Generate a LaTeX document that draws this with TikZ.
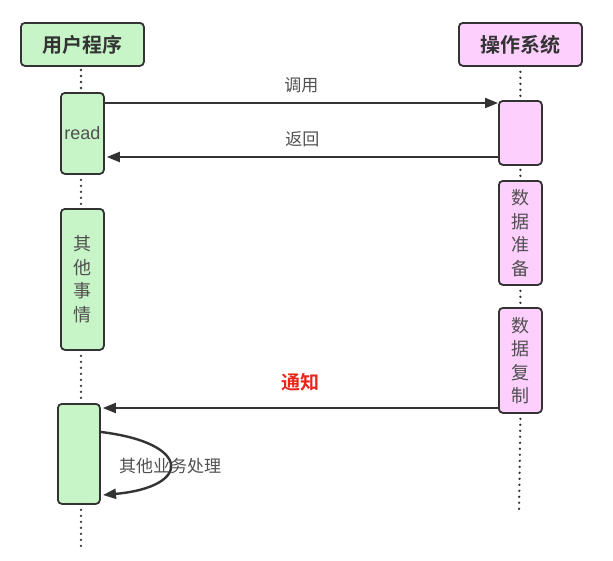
\documentclass[tikz,border=0pt]{standalone}
\usepackage{fontspec}
\newfontfamily\cjk{Noto Sans CJK SC}[BoldFont={Noto Sans CJK SC Bold}]
\setmainfont{Liberation Sans}
\usetikzlibrary{arrows.meta}
\definecolor{gfill}{HTML}{C8F5C8}
\definecolor{pfill}{HTML}{FCCFFC}
\definecolor{edge}{HTML}{333333}
\definecolor{txt}{HTML}{505050}
\definecolor{redtxt}{HTML}{E8261A}
\begin{document}
\begin{tikzpicture}[x=1pt,y=-1pt,
  box/.style={draw=edge,line width=1.8pt,rounded corners=4pt,inner sep=0pt,anchor=north west},
  head/.style={box,font=\cjk\bfseries\fontsize{20}{20}\selectfont,text=edge},
  act/.style={box,text=txt,font=\cjk\fontsize{18}{23.5}\selectfont,align=center},
  life/.style={draw=edge,line width=2.6pt,line cap=round,dash pattern=on 0pt off 6pt},
  msg/.style={draw=edge,line width=2pt,-{Triangle[length=13pt,width=10pt]}},
  lbl/.style={text=txt,font=\cjk\fontsize{17}{17}\selectfont}]
\useasboundingbox (0,0) rectangle (613,560);
% headers
\node[head,fill=gfill,minimum width=123pt,minimum height=43pt] (uh) at (20,22) {用户程序};
\node[head,fill=pfill,minimum width=123pt,minimum height=43pt] (oh) at (458,22) {操作系统};
% user activations
\node[act,fill=gfill,minimum width=43pt,minimum height=81pt,font=\fontsize{18}{18}\selectfont] (rd) at (60,92) {read};
\node[act,fill=gfill,minimum width=43pt,minimum height=141pt] (ot) at (60,208) {其\\他\\事\\情};
\node[act,fill=gfill,minimum width=42pt,minimum height=100pt] (fa) at (57,403) {};
% os activations
\node[act,fill=pfill,minimum width=43pt,minimum height=64pt] (o1) at (498,100) {};
\node[act,fill=pfill,minimum width=43pt,minimum height=104pt] (pr) at (498,180) {数\\据\\准\\备};
\node[act,fill=pfill,minimum width=43pt,minimum height=105pt] (cp) at (498,307) {数\\据\\复\\制};
% lifeline points
\coordinate (u0) at (81,65);
\coordinate (uend) at (81,548);
\coordinate (oend) at (519,512);
% lifelines
\draw[life] ([yshift=-5pt]u0) -- ([yshift=3pt]u0 |- rd.north);
\draw[life] ([yshift=-5pt]u0 |- rd.south) -- ([yshift=3pt]u0 |- ot.north);
\draw[life] ([yshift=-5pt]u0 |- ot.south) -- ([yshift=3pt]u0 |- fa.north);
\draw[life] ([yshift=-5pt]u0 |- fa.south) -- (uend);
\draw[life] ([yshift=-5pt]oh.south) -- ([yshift=3pt]o1.north);
\draw[life] ([yshift=-4pt]o1.south) -- ([yshift=2pt]pr.north);
\draw[life] ([yshift=-5pt]pr.south) -- ([yshift=3pt]cp.north);
\draw[life] ([yshift=-5pt]cp.south) -- (oend);
% messages
\draw[msg] (rd.east |- 0,103) -- (o1.west |- 0,103) node[lbl,midway,above=6pt] (l1) {调用};
\draw[msg] (o1.west |- 0,157) -- ([xshift=2pt]rd.east |- 0,157) node[lbl,midway,above=6pt] (l2) {返回};
\draw[msg] (cp.west |- 0,408) -- ([xshift=2pt]fa.east |- 0,408) node[midway,above=13pt,text=redtxt,font=\cjk\bfseries\fontsize{19}{19}\selectfont] (l3) {通知};
% self loop
\coordinate (ls) at (101,432);
\coordinate (le) at (103,495);
\draw[msg,line width=2.4pt] (ls) .. controls (192,443) and (192,487) .. (le);
\node[lbl,text=txt] (l4) at (170,466) {其他业务处理};
\end{tikzpicture}
\end{document}
